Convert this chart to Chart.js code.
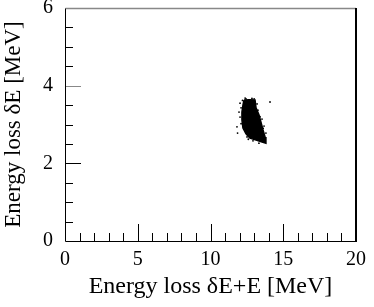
<!DOCTYPE html>
<html>
<head>
<meta charset="utf-8">
<script src="https://cdn.jsdelivr.net/npm/chart.js@4/dist/chart.umd.min.js"></script>
<style>
html,body{margin:0;padding:0;background:#fff;}
#wrap{width:374px;height:307px;position:relative;}
</style>
</head>
<body>
<div id="wrap"><canvas id="c"></canvas></div>
<script>
// Axis ranges and tick labels
const xRange = [0, 20];
const yRange = [0, 6];
const xMajorStep = 5, xMinorStep = 1;
const yMajorStep = 2, yMinorStep = 0.5;
const xTitle = "Energy loss \u03B4E+E [MeV]";
const yTitle = "Energy loss \u03B4E [MeV]";

// Outline of the dense cluster, x = δE+E, y = δE
const clusterX = [12.30, 12.65, 13.06, 13.13, 13.33, 13.47, 13.61, 13.75, 13.81, 13.54, 13.13, 12.71, 12.44, 12.23, 12.16, 12.16, 12.23, 12.30];
const clusterY = [3.63, 3.64, 3.63, 3.43, 3.25, 3.06, 2.86, 2.68, 2.52, 2.55, 2.60, 2.65, 2.76, 2.91, 3.12, 3.32, 3.50, 3.63];

// Individual scattered events around the cluster edges
const eventX = [12.03, 12.10, 11.96, 12.03, 11.82, 11.86, 14.09, 12.44, 12.85, 13.20, 13.26, 13.54, 13.68, 13.81, 12.51, 12.92, 13.33, 12.10, 12.20, 12.38, 13.00, 13.40, 13.62, 12.60];
const eventY = [3.55, 3.43, 3.32, 3.19, 2.94, 2.78, 3.58, 3.66, 3.67, 3.53, 3.37, 3.14, 2.96, 2.78, 2.68, 2.58, 2.52, 3.02, 3.62, 3.68, 3.66, 3.20, 2.90, 2.62];

const FONT = "'Liberation Serif','Times New Roman',serif";

const clusterData = clusterX.map((x, i) => ({x, y: clusterY[i]}));
const eventData = eventX.map((x, i) => ({x, y: eventY[i]}));

const frameTicks = {
  id: 'frameTicks',
  afterDatasetsDraw(chart) {
    const {ctx, chartArea: a, scales: {x, y}} = chart;
    ctx.save();
    ctx.lineCap = 'butt';
    ctx.strokeStyle = '#000';
    ctx.lineWidth = 1;
    for (let v = xRange[0] + xMinorStep; v < xRange[1]; v += xMinorStep) {
      const px = Math.round(x.getPixelForValue(v)) + 0.5;
      const len = (Math.abs(v % xMajorStep) < 1e-9) ? 17 : 8;
      ctx.beginPath(); ctx.moveTo(px, a.bottom); ctx.lineTo(px, a.bottom - len); ctx.stroke();
    }
    for (let v = yRange[0] + yMinorStep; v < yRange[1] - 1e-9; v += yMinorStep) {
      const py = Math.round(y.getPixelForValue(v)) + 0.5;
      const major = Math.abs(v % yMajorStep) < 1e-9;
      const len = major ? 16 : 8;
      ctx.strokeStyle = (major && v === 4) ? '#888' : '#000';
      ctx.beginPath(); ctx.moveTo(a.left, py); ctx.lineTo(a.left + len, py); ctx.stroke();
    }
    const L = Math.round(a.left) + 0.5, R = Math.round(a.right), T = Math.round(a.top) + 0.5, B = Math.round(a.bottom) + 0.5;
    ctx.strokeStyle = '#888'; ctx.lineWidth = 1.5;
    ctx.beginPath(); ctx.moveTo(L, T); ctx.lineTo(R, T); ctx.stroke();
    ctx.strokeStyle = '#000'; ctx.lineWidth = 1;
    ctx.beginPath(); ctx.moveTo(L, T); ctx.lineTo(L, B); ctx.lineTo(R, B); ctx.stroke();
    ctx.lineWidth = 2;
    ctx.beginPath(); ctx.moveTo(R, T - 0.5); ctx.lineTo(R, B + 0.5); ctx.stroke();
    ctx.restore();
  }
};

new Chart(document.getElementById('c'), {
  type: 'scatter',
  data: {
    datasets: [
      {
        data: clusterData, showLine: true, fill: 'shape', tension: 0,
        backgroundColor: '#000', borderColor: '#000', borderWidth: 1.5,
        pointRadius: 0
      },
      {
        data: eventData, showLine: false,
        backgroundColor: '#000', borderColor: '#000', borderWidth: 0,
        pointRadius: 0.9
      }
    ]
  },
  options: {
    responsive: true, maintainAspectRatio: false, animation: false,
    devicePixelRatio: 1,
    layout: {padding: {left: 0, right: 18, top: 8, bottom: 0}},
    plugins: {legend: {display: false}, tooltip: {enabled: false}},
    scales: {
      x: {
        type: 'linear', min: xRange[0], max: xRange[1],
        border: {display: false},
        grid: {display: false, drawTicks: false},
        ticks: {stepSize: xMajorStep, color: '#000', padding: 7, maxRotation: 0,
                font: {family: FONT, size: 20}},
        title: {display: true, text: xTitle, color: '#000', padding: {top: 0, bottom: 6},
                font: {family: FONT, size: 24}},
        afterFit(s) { s.height = 66; s.paddingLeft = 0; s.paddingRight = 0; }
      },
      y: {
        type: 'linear', min: yRange[0], max: yRange[1],
        border: {display: false},
        grid: {display: false, drawTicks: false},
        ticks: {stepSize: yMajorStep, color: '#000', padding: 12,
                font: {family: FONT, size: 20}},
        title: {display: true, text: yTitle, color: '#000', padding: {top: 0, bottom: 0},
                font: {family: FONT, size: 23}},
        afterFit(s) { s.width = 65; s.paddingTop = 0; s.paddingBottom = 0; }
      }
    }
  },
  plugins: [frameTicks]
});
</script>
</body>
</html>
